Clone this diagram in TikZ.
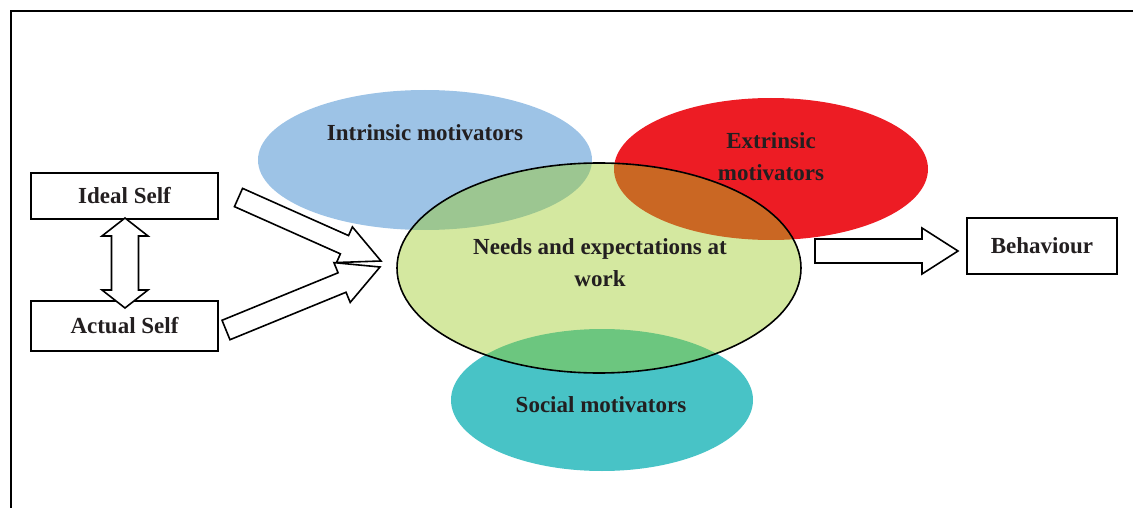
\documentclass[tikz,border=0pt]{standalone}
\usepackage{fontspec}
\setmainfont{Liberation Serif}
\usetikzlibrary{calc}
\definecolor{txt}{HTML}{231F20}
\definecolor{intr}{HTML}{9DC3E6}
\definecolor{extr}{HTML}{ED1C24}
\definecolor{soc}{HTML}{48C3C6}
\definecolor{need}{RGB}{156,202,35}
\newcommand\blockarrow[5]{%
  \path ($(#2)!#5!(#1)$) coordinate (ba-h);
  \draw[barrow] ($(#1)!#3!90:(#2)$) -- ($(ba-h)!#3!90:(#2)$) -- ($(ba-h)!#4!90:(#2)$) -- (#2)
    -- ($(ba-h)!#4!-90:(#2)$) -- ($(ba-h)!#3!-90:(#2)$) -- ($(#1)!#3!-90:(#2)$) -- cycle;}
\tikzset{
  lbl/.style={text=txt, font=\fontsize{23}{32}\selectfont\bfseries, align=center},
  box/.style={draw=black, line width=1.6pt, fill=white, minimum width=187pt, lbl},
  barrow/.style={draw=black, line width=1.6pt, fill=white, line join=miter},
  blob/.style={draw=none},
}
\begin{document}
\begin{tikzpicture}[x=1pt,y=-1pt]
\useasboundingbox (0,0) rectangle (1133,508);
\draw[line width=1.5pt] (11,508) -- (11,11) -- (1133,11);
% ellipses
\fill[intr] (425,160) ellipse [x radius=167, y radius=70];
\fill[extr] (771,169) ellipse [x radius=157, y radius=71];
\fill[soc] (602,400) ellipse [x radius=151, y radius=71];
\node[lbl] (intrinsic) at (425,133) {Intrinsic motivators};
\node[lbl] (extrinsic) at (771,157) {Extrinsic\\motivators};
\node[lbl] (social) at (601,405) {Social motivators};
\fill[need, fill opacity=0.43] (599,268) ellipse [x radius=202, y radius=105];
\draw[black, line width=1.6pt] (599,268) ellipse [x radius=202, y radius=105];
\node[lbl] (needs) at (600,263) {Needs and expectations at\\work};
% boxes
\node[box, minimum height=46pt] (ideal) at (124.5,196) {Ideal Self};
\node[box, minimum height=50pt] (actual) at (124.5,326) {Actual Self};
\node[box, minimum width=150pt, minimum height=56pt] (behav) at (1042,246) {Behaviour};
% arrows
\coordinate (i-tail) at (238.5,197.5);
\coordinate (i-tip) at (381,261);
\coordinate (a-tail) at (226,330);
\coordinate (a-tip) at (380,267);
\coordinate (b-tail) at (815,251);
\coordinate (b-tip) at (958,251);
\blockarrow{i-tail}{i-tip}{10pt}{19.5pt}{40pt}
\blockarrow{a-tail}{a-tip}{10.5pt}{21.5pt}{41pt}
\blockarrow{b-tail}{b-tip}{12pt}{23pt}{36pt}
% double arrow
\coordinate (d-top) at (125,218);
\coordinate (d-bot) at (125,308);
\draw[barrow] (d-top) -- ($(d-top)+(23,18)$) -- ($(d-top)+(13.5,18)$) -- ($(d-bot)+(13.5,-18)$)
  -- ($(d-bot)+(23,-18)$) -- (d-bot) -- ($(d-bot)+(-23,-18)$) -- ($(d-bot)+(-13.5,-18)$)
  -- ($(d-top)+(-13.5,18)$) -- ($(d-top)+(-23,18)$) -- cycle;
\end{tikzpicture}
\end{document}
